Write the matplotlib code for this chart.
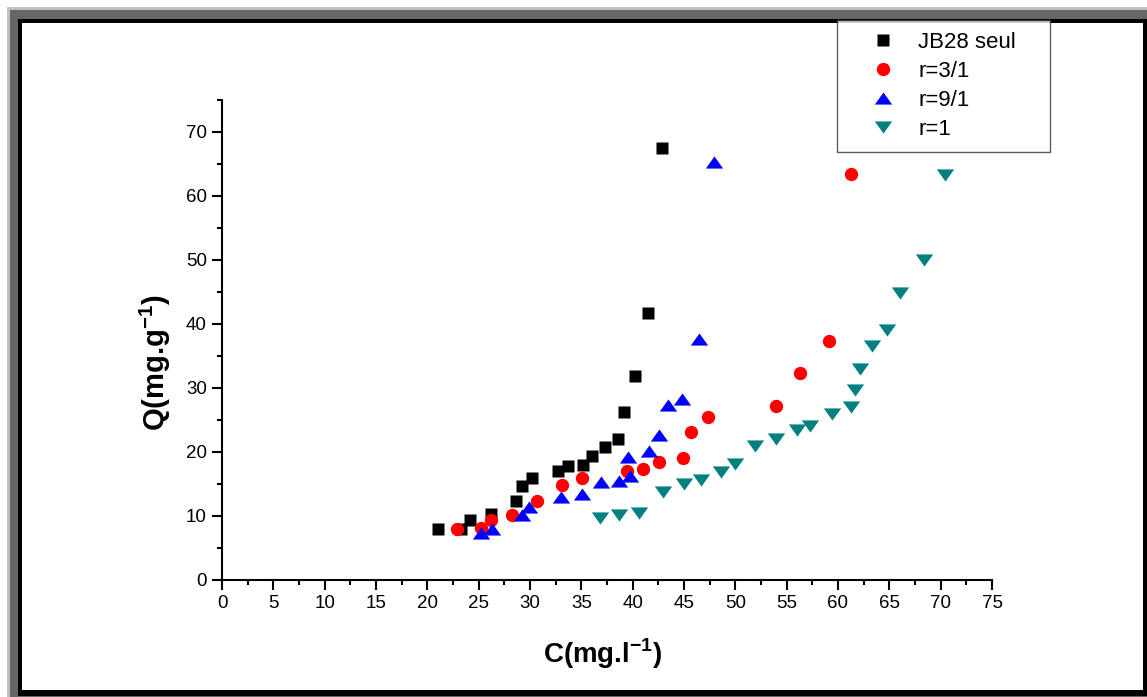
import numpy as np
import matplotlib
matplotlib.use('Agg')
import matplotlib.pyplot as plt
from matplotlib.patches import Rectangle
from matplotlib.ticker import MultipleLocator

plt.rcParams['font.family'] = ['Liberation Sans', 'DejaVu Sans']
plt.rcParams['mathtext.fontset'] = 'custom'
plt.rcParams['mathtext.rm'] = 'Liberation Sans'
plt.rcParams['mathtext.bf'] = 'Liberation Sans:bold'

# donnees
c_jb28 = [21.0, 23.3, 24.2, 26.2, 28.6, 29.2, 30.2, 32.7, 33.7, 35.2, 36.0, 37.3, 38.6, 39.2, 40.2, 41.5, 42.9]
q_jb28 = [7.9, 7.9, 9.3, 10.3, 12.3, 14.7, 16.0, 17.0, 17.8, 18.0, 19.4, 20.8, 22.1, 26.3, 31.8, 41.7, 67.5]

c_r31 = [22.9, 25.2, 26.2, 28.2, 30.7, 33.1, 35.1, 39.4, 41.0, 42.6, 44.9, 45.7, 47.3, 54.0, 56.3, 59.1, 61.3]
q_r31 = [7.9, 8.1, 9.3, 10.2, 12.3, 14.8, 15.9, 17.0, 17.3, 18.5, 19.0, 23.1, 25.5, 27.2, 32.3, 37.3, 63.4]

c_r91 = [25.2, 26.3, 29.2, 29.9, 33.0, 35.1, 36.9, 38.7, 39.7, 39.5, 41.6, 42.6, 43.4, 44.8, 46.5, 47.9]
q_r91 = [7.3, 8.0, 10.2, 11.4, 12.9, 13.5, 15.3, 15.4, 16.3, 19.2, 20.2, 22.7, 27.4, 28.3, 37.6, 65.3]

c_r1 = [36.8, 38.7, 40.6, 43.0, 45.0, 46.7, 48.6, 50.0, 51.9, 54.0, 56.0, 57.3, 59.4, 61.3, 61.7, 62.1, 63.3, 64.8, 66.0, 68.4, 70.4]
q_r1 = [9.7, 10.2, 10.4, 13.7, 15.0, 15.7, 16.9, 18.1, 21.0, 22.0, 23.4, 24.1, 26.0, 27.1, 29.7, 32.9, 36.5, 39.1, 44.8, 50.0, 63.3]

W, H = 1147, 697
fig = plt.figure(figsize=(W / 100, H / 100), dpi=100)

def px_rect(x0, y0, x1, y1, color, z):
    # rectangle en pixels (origine en haut a gauche)
    fig.patches.append(Rectangle((x0 / W, 1 - y1 / H), (x1 - x0) / W, (y1 - y0) / H,
                                 transform=fig.transFigure, facecolor=color,
                                 edgecolor='none', zorder=z))

# cadre
px_rect(7, 7, W, H, '#c0c0c0', -5)
px_rect(10, 10, W, H, '#666666', -4)
px_rect(18, 19, W, 696, 'black', -3)
px_rect(22, 23, 1143, 690, 'white', -2)

ax = fig.add_axes([222 / W, 1 - 580 / H, 770 / W, 480 / H])
ax.set_facecolor('none')

tri_up = [(-1, -0.7), (1, -0.7), (0, 0.7)]
tri_down = [(-1, 0.7), (1, 0.7), (0, -0.7)]

ax.plot(c_jb28, q_jb28, ls='none', marker='s', ms=8.6, color='black', mec='none', label='JB28 seul')
ax.plot(c_r31, q_r31, ls='none', marker='o', ms=9.6, color='red', mec='none', label='r=3/1')
ax.plot(c_r91, q_r91, ls='none', marker=tri_up, ms=12.5, color='blue', mec='none', label='r=9/1')
ax.plot(c_r1, q_r1, ls='none', marker=tri_down, ms=12.5, color='#008080', mec='none', label='r=1')

ax.set_xlim(0, 75)
ax.set_ylim(0, 75)
ax.xaxis.set_major_locator(MultipleLocator(5))
ax.xaxis.set_minor_locator(MultipleLocator(2.5))
ax.yaxis.set_major_locator(MultipleLocator(10))
ax.yaxis.set_minor_locator(MultipleLocator(5))
ax.set_yticks(np.arange(0, 71, 10))

for s in ['top', 'right']:
    ax.spines[s].set_visible(False)
for s in ['left', 'bottom']:
    ax.spines[s].set_linewidth(1.5)

ax.tick_params(which='major', direction='out', length=7, width=1.5, labelsize=13.5, pad=4)
ax.tick_params(which='minor', direction='out', length=3.5, width=1.5)

fig.text(603 / W, 1 - 663 / H, r'C(mg.l$^{\mathbf{-1}}$)', fontsize=20, fontweight='bold',
         ha='center', va='baseline')
fig.text(155 / W, 1 - 363 / H, r'Q(mg.g$^{\mathbf{-1}}$)', fontsize=21, fontweight='bold',
         rotation=90, ha='center', va='center')

leg = ax.legend(loc='upper left', bbox_to_anchor=(837 / W, 1 - 20 / H, 213 / W, 0),
                bbox_transform=fig.transFigure, mode='expand', borderaxespad=0,
                fontsize=16, frameon=True, fancybox=False, borderpad=0.55,
                handlelength=3.0, handletextpad=0.1, labelspacing=0.36)
leg.get_frame().set_edgecolor('#333333')
leg.get_frame().set_linewidth(1.0)

fig.savefig('out.png', dpi=100)
